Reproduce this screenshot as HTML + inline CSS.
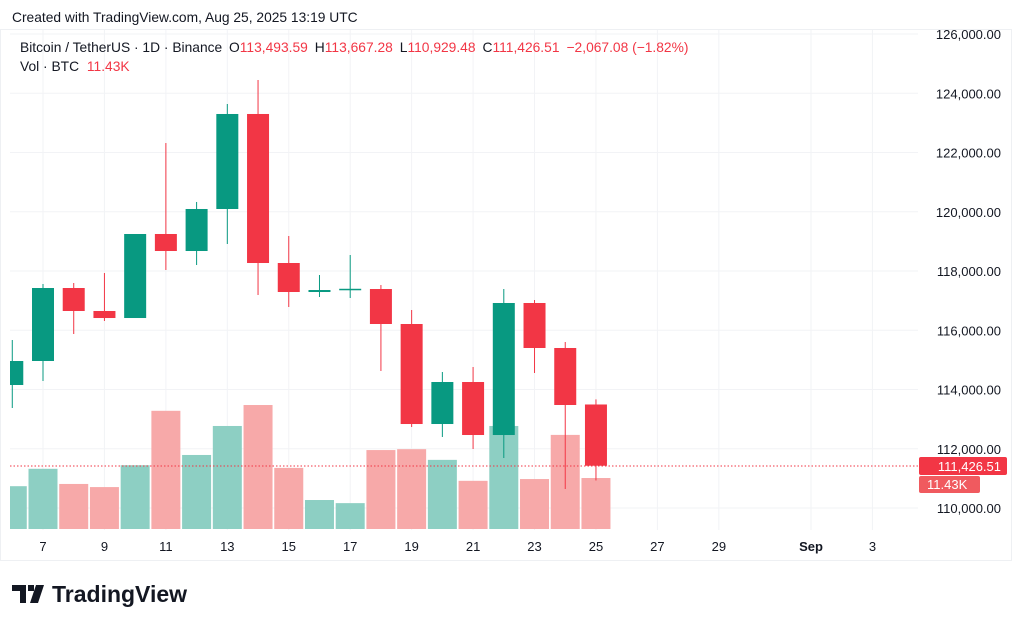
<!DOCTYPE html>
<html><head><meta charset="utf-8"><style>
body{margin:0;background:#fff;font-family:"Liberation Sans",sans-serif;}
svg text{font-family:"Liberation Sans",sans-serif;}
</style></head><body>
<svg id="c" width="1024" height="627" xmlns="http://www.w3.org/2000/svg">
<defs><clipPath id="plot"><rect x="10" y="30" width="908" height="500"/></clipPath></defs>
<rect x="0" y="0" width="1024" height="627" fill="#fff"/>
<text x="12" y="22" font-size="13.8" fill="#131722">Created with TradingView.com, Aug 25, 2025 13:19 UTC</text>
<rect x="0.5" y="29.5" width="1011" height="531" fill="none" stroke="#eef0f3"/>
<g id="grid"></g>
<g clip-path="url(#plot)"><g id="vols"></g><g id="candles"></g></g>
<line x1="10" x2="918" y1="466" y2="466" stroke="#f23645" stroke-dasharray="1.5,2"/>
<g id="yaxis"></g>
<g id="xaxis"></g>
<rect x="919" y="457" width="88" height="18" rx="2" fill="#f23645"/>
<text x="1001" y="471" font-size="13" fill="#fff" text-anchor="end">111,426.51</text>
<rect x="919" y="476" width="61" height="17" rx="2" fill="#f05a5f"/>
<text x="927" y="489" font-size="13" fill="#fff">11.43K</text>
<text x="20" y="52" font-size="13.8" fill="#131722">Bitcoin / TetherUS · 1D · Binance <tspan dx="3">O</tspan><tspan fill="#f23645">113,493.59</tspan><tspan dx="7">H</tspan><tspan fill="#f23645">113,667.28</tspan><tspan dx="7">L</tspan><tspan fill="#f23645">110,929.48</tspan><tspan dx="7">C</tspan><tspan fill="#f23645">111,426.51</tspan><tspan dx="7" fill="#f23645">−2,067.08 (−1.82%)</tspan></text>
<text x="20" y="71" font-size="13.8" fill="#131722">Vol · BTC <tspan dx="4" fill="#f23645">11.43K</tspan></text>
<g>
<path d="M12 585h14v18h-6v-12h-8z M28 585h6v6h-6z M36 585h8l-6 18h-8z" fill="#131722"/>
<text x="52" y="602" font-size="23" font-weight="bold" fill="#131722">TradingView</text>
</g>
</svg>
<script>
const days=[6,7,8,9,10,11,12,13,14,15,16,17,18,19,20,21,22,23,24,25];
const opens=[114152,114962,117426,116650,116413,119249,118675,120093,123300,118270,117291,117358,117392,116211,112835,114253,112464,116920,115401,113494];
const highs=[115671,117561,117595,117932,119249,122320,120330,123637,124447,119182,117865,118540,117527,116684,114591,114760,117392,117021,115603,113667];
const lows=[113375,114287,115873,116312,116413,118034,118202,118911,117190,116785,117122,117089,114625,112734,112397,111992,111688,114557,110641,110929];
const closes=[114962,117426,116650,116413,119249,118675,120093,123300,118270,117291,117358,117400,116211,112835,114253,112464,116920,115401,113477,111427];
const volumes=[9.6,13.5,10.1,9.4,14.3,26.5,16.6,23.1,27.8,13.7,6.5,5.8,17.7,17.9,15.5,10.8,23.1,11.2,21.1,11.43];
const priceTicks=[110000,112000,114000,116000,118000,120000,122000,124000,126000];
const dayTicks=[7,9,11,13,15,17,19,21,23,25,27,29,32,34];
const dayTickLabels=["7","9","11","13","15","17","19","21","23","25","27","29","Sep","3"];
const NS="http://www.w3.org/2000/svg";
const X=d=>43+(d-7)*30.72;
const Y=p=>508-(p-110000)*29.625/1000;
const V=v=>529-v*4.46;
function mk(t,a,parent){const e=document.createElementNS(NS,t);for(const k in a)e.setAttribute(k,a[k]);document.getElementById(parent).appendChild(e);return e;}
priceTicks.forEach(p=>{
 const l=mk('line',{x1:10,x2:918,y1:Y(p),y2:Y(p),stroke:'#f2f3f6'},'grid');
 
 
 const t=mk('text',{x:1001,y:Y(p)+5,'font-size':13,fill:'#131722','text-anchor':'end'},'yaxis');
 t.textContent=p.toLocaleString('en-US',{minimumFractionDigits:2});
 
 
});
dayTicks.forEach((d,i)=>{
 const l=mk('line',{x1:X(d),x2:X(d),y1:30,y2:530,stroke:'#f2f3f6'},'grid');
 
 
 const t=mk('text',{x:X(d),y:551,'font-size':13,fill:'#131722','text-anchor':'middle','font-weight':dayTickLabels[i]==='Sep'?'bold':'normal'},'xaxis');
 t.textContent=dayTickLabels[i];
 
 
});
days.forEach((d,i)=>{
 const up=closes[i]>=opens[i];
 const vb=mk('rect',{x:X(d)-14.5,y:V(volumes[i]),width:29,height:529-V(volumes[i]),fill:up?'#8dcfc3':'#f7a9a9'},'vols');
 
 
});
days.forEach((d,i)=>{
 const up=closes[i]>=opens[i];const col=up?'#089981':'#f23645';
 const w=mk('line',{x1:X(d),x2:X(d),y1:Y(highs[i]),y2:Y(lows[i]),stroke:col,'stroke-width':1},'candles');
 
 
 const top=Y(Math.max(opens[i],closes[i])),bot=Y(Math.min(opens[i],closes[i]));
 const b=mk('rect',{x:X(d)-11,y:top,width:22,height:Math.max(1.5,bot-top),fill:col},'candles');
 
 
});
</script>
</body></html>
